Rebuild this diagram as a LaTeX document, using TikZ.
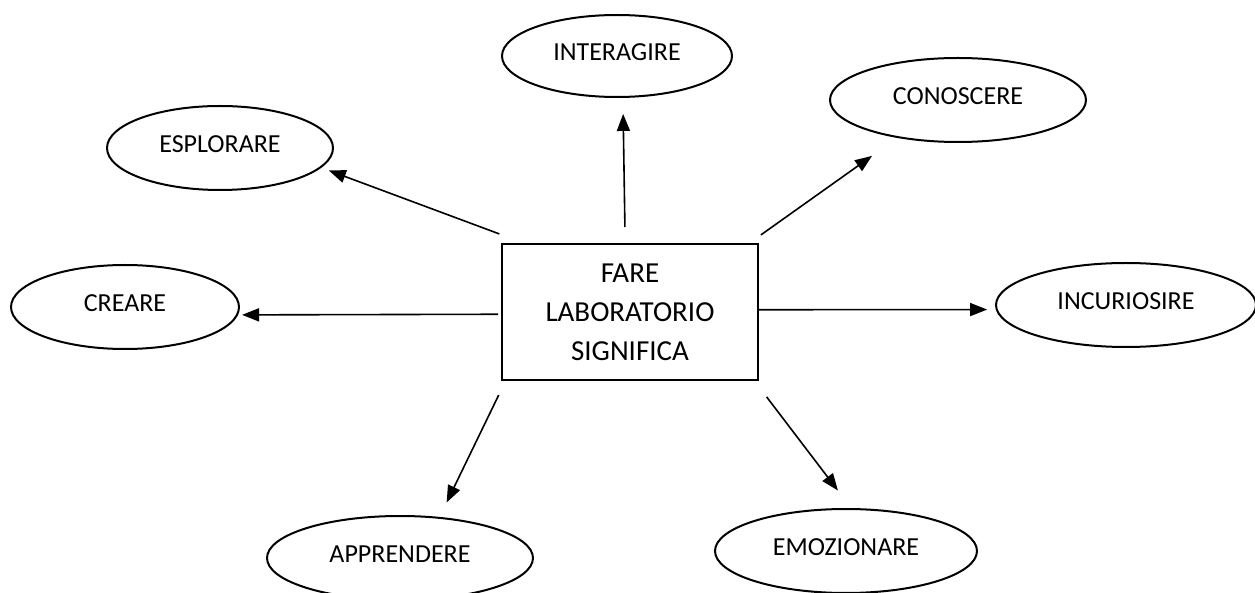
\documentclass[tikz,border=0pt]{standalone}
\usepackage{fontspec}
\setmainfont{Carlito}
\usetikzlibrary{arrows.meta}
\usetikzlibrary{shapes.geometric}

\begin{document}
\begin{tikzpicture}[x=0.5pt,y=-0.5pt]
\tikzset{ell/.style={draw, ellipse, line width=1pt, inner sep=0pt, text depth=4pt, font=\fontsize{13}{15}\selectfont}}
\tikzset{hub/.style={draw, rectangle, line width=1pt, align=center, minimum width=128pt, minimum height=68pt, font=\fontsize{14.5}{19.5}\selectfont}}
\tikzset{arr/.style={-{Triangle[length=8.5pt,width=6.5pt]}, line width=0.8pt}}
\useasboundingbox (0,0) rectangle (1255,593);
\node[hub] (fare) at (630,312) {FARE\\LABORATORIO\\SIGNIFICA};
\node[ell, minimum width=115pt, minimum height=41pt] (inter) at (617,56) {INTERAGIRE};
\node[ell, minimum width=128pt, minimum height=42pt] (con) at (958,100) {CONOSCERE};
\node[ell, minimum width=113pt, minimum height=42pt] (espl) at (220,148) {ESPLORARE};
\node[ell, minimum width=114pt, minimum height=42pt] (crea) at (125,307) {CREARE};
\node[ell, minimum width=130pt, minimum height=42pt] (incu) at (1126,305) {INCURIOSIRE};
\node[ell, minimum width=133pt, minimum height=42pt] (appr) at (400,558) {APPRENDERE};
\node[ell, minimum width=131pt, minimum height=42pt] (emoz) at (846,551) {EMOZIONARE};
\draw[arr, shorten <=8pt, shorten >=8pt] (fare.94) -- (inter.278);
\draw[arr, shorten <=7pt, shorten >=15.5pt] (fare.30) -- (con.212);
\draw[arr, shorten <=13pt, shorten >=4pt] (fare.147) -- (espl.349);
\draw[arr, shorten <=1.5pt, shorten >=2pt] (fare.181) -- (crea.356);
\draw[arr, shorten >=4.3pt] (fare.1) -- (incu.182);
\draw[arr, shorten <=7.8pt, shorten >=8pt] (fare.209) -- (appr.46);
\draw[arr, shorten <=10pt, shorten >=11pt] (fare.331) -- (emoz.83);
\end{tikzpicture}
\end{document}
